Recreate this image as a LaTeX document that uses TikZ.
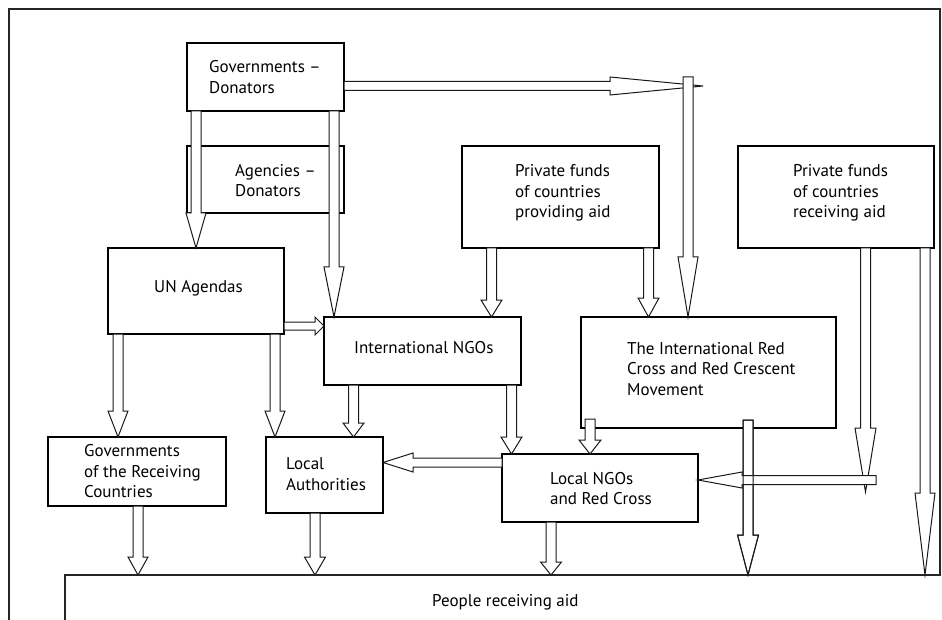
\documentclass[tikz,border=0pt]{standalone}
\usepackage{fontspec}
\setmainfont{PT Sans}
\begin{document}
\begin{tikzpicture}[x=1pt,y=-1pt,
  box/.style={draw=black, line width=1.1pt, fill=white, inner sep=0pt},
  txt/.style={anchor=west, inner sep=0pt, align=left, font=\fontsize{17}{20.5}\selectfont},
  arr/.style={draw=black!90, line width=1pt, fill=white, line join=miter},
  arrnofill/.style={draw=black!90, line width=1pt, line join=miter},
  frame/.style={draw=black!85, line width=1.1pt}]
\useasboundingbox (0,0) rectangle (942,620);
% vertical block arrow: [style] cx, ytop, ybase, ytip, head half-width
\newcommand\vblk[6][arr]{\path[#1] ({#2-5},#3) -- ({#2-5},#4) -- ({#2-#6},#4) -- (#2,#5) -- ({#2+#6},#4) -- ({#2+5},#4) -- ({#2+5},#3) -- cycle;}
% horizontal block arrow: [style] cy, xstart, xbase, xtip, head half-width, shaft half-width
\newcommand\hblk[7][arr]{\path[#1] (#3,{#2-#7}) -- (#4,{#2-#7}) -- (#4,{#2-#6}) -- (#5,#2) -- (#4,{#2+#6}) -- (#4,{#2+#7}) -- (#3,{#2+#7}) -- cycle;}

% outer frame and people box
\draw[frame] (9,620) -- (9,9) -- (940,9) -- (940,575) -- (65,575) -- (65,620);
\node[txt] (people) at (432,602) {People receiving aid};

% boxes
\node[box, minimum width=157pt, minimum height=68pt] (gov) at (265.5,77) {};
\node[box, minimum width=157pt, minimum height=67pt] (agen) at (265.5,179.5) {};
\node[box, minimum width=176pt, minimum height=86pt] (un) at (196,291) {};
\node[box, minimum width=197pt, minimum height=68pt] (intl) at (422.5,351) {};
\node[box, minimum width=197pt, minimum height=102pt] (pprov) at (560.5,197) {};
\node[box, minimum width=196pt, minimum height=102pt] (prec) at (836,197) {};
\node[box, minimum width=255pt, minimum height=111pt] (rc) at (708.5,372.5) {};
\node[box, minimum width=196pt, minimum height=68pt] (lngo) at (600,488) {};
\node[box, minimum width=117pt, minimum height=76pt] (lauth) at (324.5,475) {};
\node[box, minimum width=178pt, minimum height=69pt] (grec) at (137,471.5) {};

% texts
\node[txt] (govt) at (209,77) {Governments –\\Donators};
\node[txt] (agent) at (235,180.5) {Agencies –\\Donators};
\node[txt] (unt) at (154,288) {UN Agendas};
\node[txt] (intlt) at (354,348) {International NGOs};
\node[txt] (pprovt) at (515,193) {Private funds\\of countries\\providing aid};
\node[txt] (prect) at (793,193) {Private funds\\of countries\\receiving aid};
\node[txt] (rct) at (627,369) {The International Red\\Cross and Red Crescent\\Movement};
\node[txt] (lngot) at (550,488.5) {Local NGOs\\and Red Cross};
\node[txt] (lautht) at (286,474) {Local\\Authorities};
\node[txt] (grect) at (84,471.5) {Governments\\of the Receiving\\Countries};

% arrows
\vblk{196}{111}{213}{248}{10}
\vblk{334}{111}{267}{317}{10}
\hblk{86}{344}{610}{703}{9}{4.5}
\vblk{688}{77}{257}{317}{10}
\vblk{491.5}{248}{300}{317}{10.5}
\vblk{648.5}{248}{298}{317}{10.5}
\vblk{865.5}{248}{428}{492}{10.5}
\vblk{748}{420}{535}{575}{10.5}
\hblk{480}{876}{742}{698}{8}{4.5}
\vblk[arrnofill]{748}{420}{535}{575}{10.5}
\vblk{925}{248}{493}{575}{10}
\vblk{118}{334}{411}{437}{10}
\vblk{275}{334}{411}{437}{10}
\hblk{326}{284}{315}{324}{9}{4}
\vblk{353.5}{385}{423}{437}{10.5}
\vblk{511.5}{385}{437}{454}{10.5}
\vblk{590}{419}{440}{454}{11}
\hblk{462.5}{502}{413}{383}{9.5}{4.5}
\vblk{551}{522}{562}{575}{10.5}
\vblk{138}{506}{557}{575}{10}
\vblk{315}{513}{557}{575}{10.5}
\end{tikzpicture}
\end{document}
